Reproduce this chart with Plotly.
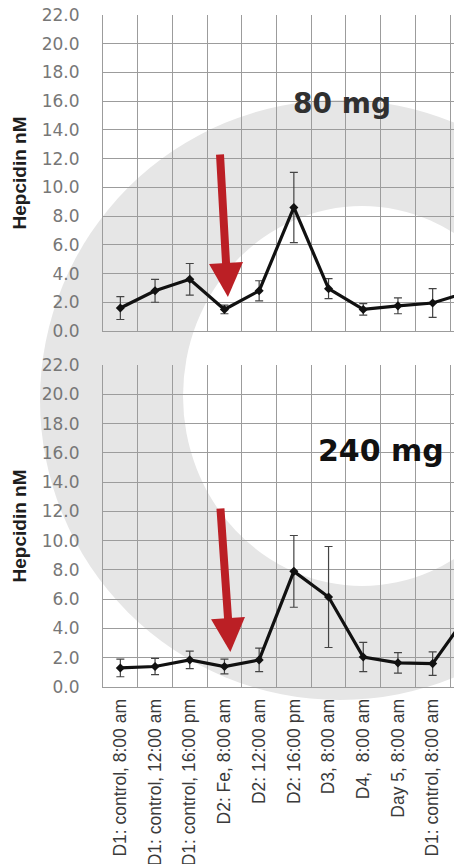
import plotly.graph_objects as go
from plotly.subplots import make_subplots

# ---- data ----
categories = ["D1: control, 8:00 am", "D1: control, 12:00 am", "D1: control, 16:00 pm",
              "D2: Fe, 8:00 am", "D2: 12:00 am", "D2: 16:00 pm", "D3, 8:00 am",
              "D4,  8:00 am", "Day 5, 8:00 am", "D1: control, 8:00 am"]
# values (nM); last entry is the next (cropped) point to which the line runs off-frame
hep_80 = [1.6, 2.8, 3.6, 1.5, 2.8, 8.6, 2.95, 1.5, 1.75, 1.95, 2.7]
err_80 = [0.8, 0.8, 1.1, 0.3, 0.7, 2.45, 0.7, 0.4, 0.55, 1.0, 0.0]
hep_240 = [1.3, 1.4, 1.85, 1.4, 1.85, 7.9, 6.15, 2.05, 1.65, 1.6, 4.9]
err_240 = [0.6, 0.55, 0.6, 0.5, 0.8, 2.45, 3.45, 1.0, 0.7, 0.8, 0.0]
y_ticks = [0, 2, 4, 6, 8, 10, 12, 14, 16, 18, 20, 22]
panel_labels = ["80 mg", "240 mg"]

W, H = 454, 864
L, R, T, B = 103, 0, 15, 177
PW, PH = W - L - R, H - T - B

def px_x(px):
    return (px - L) / PW

def px_y(py):
    return (H - B - py) / PH

top_dom = [px_y(331), 1.0]
bot_dom = [0.0, px_y(365)]

fig = make_subplots(rows=2, cols=1, shared_xaxes=False, vertical_spacing=0.05)

x_idx = list(range(len(hep_80)))
for row, vals, errs in [(1, hep_80, err_80), (2, hep_240, err_240)]:
    fig.add_trace(go.Scatter(
        x=x_idx, y=vals, mode="lines+markers",
        line=dict(color="#111111", width=3.2),
        marker=dict(symbol="diamond", size=7, color="#111111"),
        error_y=dict(type="data", array=errs, visible=True, color="#444444",
                     thickness=1.2, width=4),
        showlegend=False, cliponaxis=True), row=row, col=1)

grid_col = "#9c9c9c"
xr = [-0.5, 9.5 + (W - 450) / 34.7]
for row, dom in [(1, top_dom), (2, bot_dom)]:
    fig.update_xaxes(range=xr, domain=[0, 1], row=row, col=1, automargin=False,
                     tickmode="array", tickvals=list(range(len(categories))),
                     ticktext=categories if row == 2 else [""] * len(categories),
                     showticklabels=(row == 2), tickangle=-90,
                     tickfont=dict(family="Liberation Sans Narrow, Liberation Sans, sans-serif",
                                   size=17.5, color="#3a3a3a"),
                     ticklabelstandoff=4,
                     showgrid=False, zeroline=False,
                     showline=True, linecolor=grid_col, linewidth=1,
                     minor=dict(tickmode="array",
                                tickvals=[i - 0.5 for i in range(len(categories) + 1)],
                                showgrid=True, gridcolor=grid_col, gridwidth=1, ticklen=0))
    fig.update_yaxes(range=[0, 22], domain=dom, row=row, col=1, automargin=False,
                     tickmode="array", tickvals=y_ticks,
                     ticktext=[f"{v:.1f}" for v in y_ticks],
                     tickfont=dict(family="DejaVu Sans, sans-serif", size=17, color="#777777"),
                     ticklabelstandoff=19,
                     showgrid=True, gridcolor=grid_col, gridwidth=1,
                     zeroline=False, showline=True, linecolor=grid_col, linewidth=1,
                     title=dict(text="<b>Hepcidin nM</b>",
                                font=dict(family="Liberation Sans Narrow, Liberation Sans, sans-serif",
                                          size=19, color="#1e1e1e"),
                                standoff=10))

# background "C" watermark
shapes = [
    dict(type="circle", xref="paper", yref="paper", layer="below",
         x0=px_x(40), x1=px_x(640), y0=px_y(700), y1=px_y(100),
         fillcolor="#e6e6e6", line=dict(width=0)),
    dict(type="circle", xref="paper", yref="paper", layer="below",
         x0=px_x(183), x1=px_x(541), y0=px_y(586), y1=px_y(206),
         fillcolor="#ffffff", line=dict(width=0)),
]

annotations = [
    dict(text="<b>" + panel_labels[0] + "</b>", xref="paper", yref="paper",
         x=px_x(342), y=px_y(104), xanchor="center", yanchor="middle", showarrow=False,
         font=dict(family="DejaVu Sans, sans-serif", size=28, color="#303030")),
    dict(text="<b>" + panel_labels[1] + "</b>", xref="paper", yref="paper",
         x=px_x(381), y=px_y(450), xanchor="center", yanchor="middle", showarrow=False,
         font=dict(family="DejaVu Sans, sans-serif", size=30, color="#111111")),
    dict(xref="x", yref="y", x=3.1, y=2.37, ax=-8, ay=-144, text="",
         showarrow=True, arrowhead=2, arrowwidth=8, arrowsize=0.85, arrowcolor="#bb1f25"),
    dict(xref="x2", yref="y2", x=3.17, y=2.39, ax=-10, ay=-145, text="",
         showarrow=True, arrowhead=2, arrowwidth=8, arrowsize=0.85, arrowcolor="#bb1f25"),
]

fig.update_layout(width=W, height=H, margin=dict(l=L, r=R, t=T, b=B, pad=0),
                  paper_bgcolor="#ffffff", plot_bgcolor="rgba(0,0,0,0)",
                  shapes=shapes, annotations=annotations, showlegend=False)

fig.write_html("out.html")
